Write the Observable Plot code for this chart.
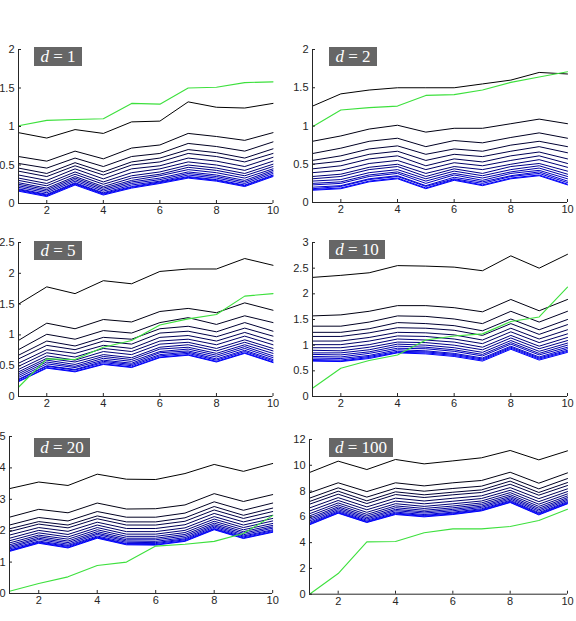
<!DOCTYPE html>
<html><head><meta charset="utf-8">
<script src="https://cdn.jsdelivr.net/npm/d3@7"></script>
<script src="https://cdn.jsdelivr.net/npm/@observablehq/plot@0.6"></script>
<style>
body{margin:0;background:#fff;}
#fig{position:relative;width:576px;height:621px;overflow:hidden;background:#fff;}
.panel{position:absolute;}
.lbl{position:absolute;background:#666;color:#fff;font-family:"Liberation Serif","DejaVu Serif",serif;font-size:17px;height:19px;line-height:19px;text-align:center;white-space:nowrap;}
.lbl i{font-style:italic;}
</style></head><body><div id="fig"></div>
<script>
const xs = [1,2,3,4,5,6,7,8,9,10];
const xTicks = [2,4,6,8,10];

// d = 1
const d1Green = [1.01,1.08,1.09,1.10,1.30,1.29,1.50,1.51,1.57,1.58];
const d1Curves = [
  [0.92,0.85,0.96,0.91,1.06,1.07,1.32,1.25,1.24,1.30],
  [0.61,0.55,0.68,0.58,0.72,0.76,0.91,0.87,0.82,0.92],
  [0.52,0.46,0.59,0.48,0.61,0.65,0.78,0.74,0.68,0.80],
  [0.46,0.39,0.53,0.41,0.54,0.59,0.70,0.66,0.59,0.71],
  [0.42,0.35,0.49,0.37,0.50,0.54,0.65,0.61,0.54,0.65],
  [0.37,0.30,0.45,0.32,0.45,0.49,0.59,0.55,0.48,0.60],
  [0.33,0.26,0.41,0.28,0.40,0.45,0.54,0.50,0.43,0.55],
  [0.30,0.23,0.38,0.25,0.36,0.41,0.50,0.46,0.39,0.51],
  [0.27,0.20,0.35,0.22,0.33,0.38,0.47,0.43,0.36,0.48],
  [0.25,0.18,0.33,0.20,0.30,0.36,0.44,0.40,0.33,0.45],
  [0.23,0.16,0.31,0.18,0.28,0.33,0.41,0.37,0.30,0.43],
  [0.21,0.14,0.29,0.16,0.26,0.31,0.39,0.35,0.28,0.41],
  [0.19,0.12,0.27,0.14,0.24,0.29,0.37,0.33,0.26,0.39],
  [0.18,0.11,0.26,0.13,0.22,0.28,0.35,0.31,0.24,0.37],
  [0.17,0.10,0.25,0.12,0.21,0.27,0.34,0.30,0.23,0.36],
  [0.16,0.09,0.24,0.11,0.20,0.26,0.33,0.29,0.22,0.35]
];
const d1Ticks = [0,0.5,1,1.5,2];

// d = 2
const d2Green = [0.99,1.21,1.24,1.26,1.40,1.41,1.47,1.57,1.64,1.71];
const d2Curves = [
  [1.26,1.42,1.47,1.50,1.50,1.50,1.55,1.60,1.70,1.68],
  [0.80,0.87,0.96,1.01,0.92,0.97,0.97,1.03,1.09,1.03],
  [0.64,0.71,0.80,0.84,0.73,0.81,0.78,0.85,0.91,0.84],
  [0.55,0.61,0.70,0.74,0.63,0.70,0.67,0.75,0.80,0.73],
  [0.50,0.54,0.63,0.67,0.55,0.63,0.60,0.67,0.73,0.65],
  [0.44,0.48,0.57,0.61,0.48,0.57,0.53,0.61,0.66,0.57],
  [0.39,0.42,0.51,0.55,0.43,0.52,0.48,0.55,0.61,0.51],
  [0.34,0.37,0.46,0.50,0.38,0.47,0.43,0.50,0.56,0.46],
  [0.31,0.34,0.43,0.47,0.34,0.44,0.38,0.47,0.51,0.41],
  [0.28,0.30,0.39,0.43,0.31,0.41,0.35,0.43,0.48,0.37],
  [0.25,0.27,0.36,0.40,0.28,0.38,0.32,0.40,0.45,0.34],
  [0.23,0.25,0.34,0.38,0.25,0.36,0.29,0.38,0.42,0.31],
  [0.20,0.22,0.31,0.35,0.22,0.33,0.27,0.35,0.40,0.28],
  [0.18,0.21,0.30,0.34,0.21,0.31,0.25,0.34,0.38,0.26],
  [0.17,0.19,0.28,0.32,0.19,0.30,0.23,0.32,0.36,0.24],
  [0.16,0.18,0.27,0.31,0.18,0.29,0.22,0.31,0.35,0.23]
];
const d2Ticks = [0,0.5,1,1.5,2];

// d = 5
const d5Green = [0.15,0.61,0.60,0.80,0.91,1.16,1.26,1.33,1.63,1.67];
const d5Curves = [
  [1.50,1.78,1.67,1.88,1.83,2.03,2.07,2.07,2.24,2.13],
  [0.91,1.19,1.10,1.25,1.21,1.38,1.43,1.36,1.52,1.40],
  [0.76,1.01,0.93,1.07,1.03,1.20,1.28,1.17,1.31,1.20],
  [0.67,0.90,0.82,0.96,0.93,1.10,1.14,1.05,1.20,1.06],
  [0.61,0.83,0.76,0.90,0.85,1.03,1.06,0.97,1.11,0.98],
  [0.54,0.76,0.70,0.83,0.78,0.96,0.99,0.90,1.04,0.90],
  [0.49,0.71,0.64,0.78,0.73,0.90,0.93,0.84,0.98,0.84],
  [0.44,0.66,0.59,0.73,0.68,0.85,0.88,0.78,0.92,0.78],
  [0.40,0.62,0.56,0.68,0.63,0.80,0.84,0.74,0.88,0.74],
  [0.37,0.59,0.52,0.65,0.60,0.77,0.80,0.70,0.84,0.70],
  [0.34,0.56,0.49,0.62,0.57,0.73,0.77,0.67,0.81,0.66],
  [0.31,0.53,0.47,0.59,0.54,0.71,0.74,0.64,0.78,0.63],
  [0.28,0.50,0.44,0.57,0.52,0.68,0.72,0.61,0.75,0.60],
  [0.27,0.49,0.43,0.55,0.50,0.66,0.70,0.59,0.73,0.58],
  [0.25,0.47,0.41,0.53,0.48,0.64,0.68,0.57,0.71,0.56],
  [0.24,0.46,0.40,0.52,0.47,0.63,0.67,0.56,0.70,0.55]
];
const d5Ticks = [0,0.5,1,1.5,2,2.5];

// d = 10
const d10Green = [0.16,0.55,0.70,0.81,1.10,1.18,1.22,1.46,1.55,2.13];
const d10Curves = [
  [2.32,2.36,2.41,2.55,2.54,2.52,2.45,2.74,2.50,2.77],
  [1.57,1.59,1.66,1.77,1.77,1.73,1.65,1.89,1.67,1.89],
  [1.37,1.37,1.45,1.57,1.56,1.51,1.42,1.66,1.45,1.66],
  [1.25,1.25,1.32,1.44,1.42,1.38,1.28,1.51,1.30,1.50],
  [1.17,1.17,1.24,1.34,1.33,1.29,1.19,1.42,1.21,1.40],
  [1.08,1.08,1.15,1.25,1.24,1.20,1.10,1.33,1.12,1.30],
  [1.01,1.01,1.08,1.18,1.17,1.12,1.03,1.26,1.05,1.22],
  [0.95,0.95,1.01,1.12,1.10,1.06,0.96,1.19,0.98,1.15],
  [0.90,0.89,0.96,1.06,1.05,1.00,0.91,1.14,0.93,1.09],
  [0.85,0.85,0.91,1.02,1.00,0.95,0.86,1.09,0.88,1.04],
  [0.82,0.81,0.87,0.98,0.96,0.91,0.82,1.05,0.84,1.00],
  [0.78,0.77,0.84,0.94,0.93,0.88,0.79,1.02,0.81,0.96],
  [0.75,0.74,0.80,0.91,0.89,0.84,0.75,0.98,0.77,0.93],
  [0.72,0.71,0.78,0.88,0.87,0.82,0.73,0.96,0.75,0.90],
  [0.70,0.69,0.76,0.86,0.85,0.80,0.71,0.94,0.73,0.88],
  [0.69,0.68,0.74,0.85,0.83,0.78,0.69,0.92,0.71,0.86]
];
const d10Ticks = [0,0.5,1,1.5,2,2.5,3];

// d = 20
const d20Green = [0.07,0.32,0.53,0.89,1.00,1.51,1.57,1.66,1.91,2.48];
const d20Curves = [
  [3.34,3.55,3.44,3.80,3.64,3.63,3.82,4.11,3.89,4.14],
  [2.43,2.68,2.57,2.88,2.69,2.70,2.82,3.18,2.93,3.15],
  [2.18,2.42,2.31,2.61,2.43,2.43,2.56,2.92,2.65,2.88],
  [2.06,2.29,2.18,2.47,2.28,2.28,2.41,2.77,2.49,2.72],
  [1.97,2.21,2.09,2.38,2.18,2.18,2.30,2.66,2.39,2.61],
  [1.86,2.10,1.98,2.27,2.07,2.07,2.19,2.55,2.28,2.49],
  [1.76,2.01,1.88,2.18,1.97,1.97,2.09,2.45,2.18,2.39],
  [1.68,1.93,1.80,2.10,1.89,1.89,2.01,2.37,2.10,2.31],
  [1.61,1.86,1.73,2.03,1.82,1.82,1.94,2.30,2.03,2.23],
  [1.55,1.81,1.67,1.97,1.76,1.76,1.88,2.24,1.97,2.17],
  [1.50,1.76,1.62,1.92,1.71,1.71,1.83,2.19,1.92,2.12],
  [1.46,1.72,1.57,1.88,1.67,1.66,1.78,2.15,1.87,2.08],
  [1.42,1.67,1.53,1.83,1.63,1.62,1.74,2.11,1.83,2.03],
  [1.38,1.64,1.50,1.80,1.59,1.59,1.71,2.07,1.80,2.00],
  [1.36,1.62,1.47,1.78,1.57,1.56,1.68,2.05,1.77,1.97],
  [1.34,1.60,1.45,1.76,1.55,1.54,1.66,2.03,1.75,1.95]
];
const d20Ticks = [0,1,2,3,4,5];

// d = 100
const d100Green = [0.00,1.60,4.06,4.09,4.76,5.07,5.07,5.25,5.72,6.59];
const d100Curves = [
  [9.44,10.32,9.67,10.45,10.11,10.34,10.58,11.15,10.42,11.12],
  [7.86,8.64,7.96,8.64,8.40,8.64,8.82,9.46,8.61,9.41],
  [7.45,8.25,7.53,8.22,7.99,8.20,8.38,9.03,8.17,8.97],
  [7.19,7.99,7.24,7.94,7.71,7.91,8.09,8.77,7.89,8.66],
  [6.98,7.76,7.03,7.73,7.50,7.71,7.89,8.53,7.68,8.43],
  [6.69,7.49,6.77,7.45,7.23,7.44,7.63,8.27,7.41,8.17],
  [6.45,7.27,6.55,7.22,7.01,7.21,7.42,8.06,7.18,7.96],
  [6.24,7.08,6.35,7.02,6.81,7.01,7.23,7.88,6.98,7.78],
  [6.07,6.92,6.19,6.85,6.65,6.84,7.08,7.72,6.81,7.62],
  [5.92,6.78,6.06,6.71,6.51,6.70,6.95,7.59,6.67,7.49],
  [5.80,6.67,5.94,6.58,6.39,6.58,6.83,7.48,6.55,7.38],
  [5.68,6.56,5.84,6.48,6.29,6.47,6.73,7.38,6.44,7.28],
  [5.57,6.46,5.74,6.37,6.18,6.36,6.63,7.28,6.33,7.18],
  [5.49,6.38,5.66,6.29,6.11,6.29,6.56,7.21,6.26,7.11],
  [5.43,6.32,5.60,6.23,6.05,6.23,6.50,7.15,6.20,7.05],
  [5.38,6.28,5.56,6.18,6.00,6.18,6.46,7.11,6.15,7.01]
];
const d100Ticks = [0,2,4,6,8,10,12];

const labels = ["1","2","5","10","20","100"];

// layout (plot-area box in page pixels) and label box placement
const panels = [
  {d: labels[0], green: d1Green, curves: d1Curves, ticks: d1Ticks, left: 17.5, top: 49, w: 254.5, h: 154, lx: 34, ly: 47, lw: 48},
  {d: labels[1], green: d2Green, curves: d2Curves, ticks: d2Ticks, left: 311.5, top: 49, w: 255, h: 153, lx: 329, ly: 47, lw: 48},
  {d: labels[2], green: d5Green, curves: d5Curves, ticks: d5Ticks, left: 17.5, top: 241.5, w: 254.5, h: 154, lx: 34, ly: 241, lw: 48},
  {d: labels[3], green: d10Green, curves: d10Curves, ticks: d10Ticks, left: 311.5, top: 242, w: 255, h: 154, lx: 329, ly: 240, lw: 56},
  {d: labels[4], green: d20Green, curves: d20Curves, ticks: d20Ticks, left: 8.8, top: 435.7, w: 263.2, h: 157, lx: 34, ly: 438, lw: 56},
  {d: labels[5], green: d100Green, curves: d100Curves, ticks: d100Ticks, left: 308.6, top: 439, w: 258, h: 154.7, lx: 329, ly: 438, lw: 64}
];

const fig = document.getElementById("fig");
const mL = 34, mR = 12, mT = 10, mB = 24;
const axisColor = "#262626";
const tickLen = 3;

panels.forEach(p => {
  const n = p.curves.length;
  const marks = [];
  p.curves.forEach((c, i) => {
    const b = Math.round(255 * i / (n - 1));
    marks.push(Plot.line(xs.map((x, j) => ({x, y: c[j]})), {x: "x", y: "y", stroke: `rgb(0,0,${b})`, strokeWidth: 1}));
  });
  marks.push(Plot.line(xs.map((x, j) => ({x, y: p.green[j]})), {x: "x", y: "y", stroke: "#3de03d", strokeWidth: 1.1}));
  // axis lines (left and bottom only, MATLAB "box off")
  marks.push(Plot.ruleX([xs[0]], {stroke: axisColor, strokeWidth: 1}));
  marks.push(Plot.ruleY([p.ticks[0]], {stroke: axisColor, strokeWidth: 1}));
  // inward ticks
  marks.push(Plot.tickY(p.ticks, {y: d => d, stroke: axisColor, insetRight: p.w - tickLen}));
  marks.push(Plot.tickX(xTicks, {x: d => d, stroke: axisColor, insetTop: p.h - tickLen}));
  // tick labels
  marks.push(Plot.axisY({ticks: p.ticks, tickSize: 0, tickPadding: 4, label: null, tickFormat: d => String(d), color: axisColor}));
  marks.push(Plot.axisX({ticks: xTicks, tickSize: 0, tickPadding: 3, label: null, tickFormat: d => String(d), color: axisColor}));
  const svg = Plot.plot({
    width: mL + p.w + mR,
    height: mT + p.h + mB,
    marginLeft: mL, marginRight: mR, marginTop: mT, marginBottom: mB,
    x: {domain: [1, 10]},
    y: {domain: [0, p.ticks[p.ticks.length - 1]]},
    style: {fontFamily: "'Liberation Sans', Arial, Helvetica, sans-serif", fontSize: "11px", background: "transparent", overflow: "visible", color: axisColor},
    marks
  });
  svg.classList.add("panel");
  svg.style.left = (p.left - mL) + "px";
  svg.style.top = (p.top - mT) + "px";
  svg.style.position = "absolute";
  fig.appendChild(svg);

  const lab = document.createElement("div");
  lab.className = "lbl";
  lab.style.left = p.lx + "px";
  lab.style.top = p.ly + "px";
  lab.style.width = p.lw + "px";
  lab.innerHTML = `<i>d</i> = ${p.d}`;
  fig.appendChild(lab);
});
</script>
</body></html>
